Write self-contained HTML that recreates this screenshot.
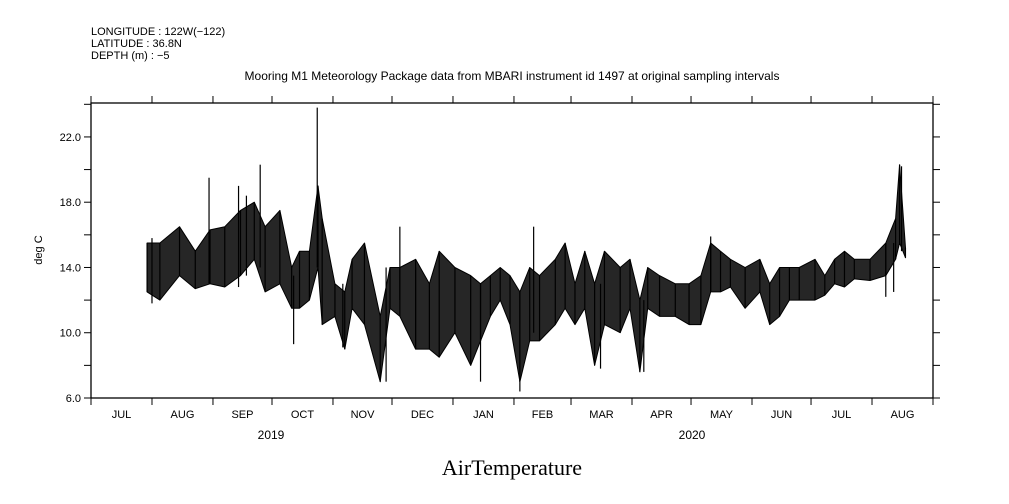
<!DOCTYPE html>
<html><head><meta charset="utf-8"><style>
body{margin:0;background:#fff;}
svg{display:block;font-family:"Liberation Sans",sans-serif;}
</style></head><body>
<svg width="1009" height="504" id="chart">
<text x="91" y="35" font-size="11">LONGITUDE : 122W(−122)</text>
<text x="91" y="47" font-size="11">LATITUDE : 36.8N</text>
<text x="91" y="59" font-size="11">DEPTH (m) : −5</text>
<text x="512" y="80" font-size="12" text-anchor="middle">Mooring M1 Meteorology Package data from MBARI instrument id 1497 at original sampling intervals</text>
<text x="512" y="475" font-size="22" text-anchor="middle" font-family="Liberation Serif, serif">AirTemperature</text>
<text x="42" y="250" font-size="11" text-anchor="middle" transform="rotate(-90 42 250)">deg C</text>
<text x="271" y="439" font-size="12" text-anchor="middle">2019</text>
<text x="692" y="439" font-size="12" text-anchor="middle">2020</text>
<g id="plot"></g>
</svg>
<script>
const segDays=[28.5,35,45,53,60.5,68,76,83,88.5,96,102,106,111,115.4,117.5,124,129,132.7,139,147,152,157,165,172,177,185,193,198,203,208,213,218,223,228,236,241,246,251,256,261,269,274,279,283,289,297,304,310,315,320,325,332.5,340,345,350,355,360,368,373,378,383,388,396,404,409,411,414];
const segHi=[15.5,15.5,16.5,15,16.3,16.5,17.5,18,16.5,17.5,14,15,15,19,17,13,12.5,14.5,15.5,11,14,14,14.5,13,15,14,13.5,13,13.5,14,13.5,12.5,14,13.5,14.5,15.5,13,15,13,15,14,14.5,12,14,13.5,13,13,13.5,15.5,15,14.5,14,14.5,13,14,14,14,14.5,13.5,14.5,15,14.5,14.5,15.5,17,20.3,15.2];
const segLo=[12.5,12,13.5,12.7,13,12.8,13.5,14.5,12.5,13,11.5,11.5,12,14,10.5,11,9,11.5,10.5,7,11.5,11,9,9,8.5,10,8,9.5,11,12,10.5,7,9.5,9.5,10.5,11.5,10.5,11.5,8,10.5,10,11.5,7.6,11.5,11,11,10.5,10.5,12.5,12.5,12.8,11.5,12.5,10.5,11,12,12,12,12.3,13,12.8,13.3,13.2,13.5,14.5,15.5,14.6];
const spikeDays=[31,60,75,79,86,103,115,128,150,157,165,198,218,225,259,281,315,404,408,412];
const spikeTop=[15.8,19.5,19,18.4,20.3,13.5,23.8,13,14,16.5,14,13,12.5,16.5,13,12,15.9,15.5,15.5,20.2];
const spikeBot=[11.8,13,12.8,13.5,14,9.3,14,9.1,7,12,9,7,6.4,10,7.8,7.6,12.5,12.2,12.5,15];
const yTicks=[6,10,14,18,22];
const months=["JUL","AUG","SEP","OCT","NOV","DEC","JAN","FEB","MAR","APR","MAY","JUN","JUL","AUG"];
const monthStart=[0,31,62,92,123,153,184,215,244,275,305,336,366,397,428];

const X0=91,X1=933,Y0=398,Y1=103,D1=428,V0=6,V1=24.08;
const xs=d=>X0+d/D1*(X1-X0);
const ys=v=>Y0-(v-V0)/(V1-V0)*(Y0-Y1);
const NS="http://www.w3.org/2000/svg";
const g=document.getElementById('plot');
function mk(tag,a){const e=document.createElementNS(NS,tag);for(const k in a)e.setAttribute(k,a[k]);g.appendChild(e);return e;}
let e=mk('rect',{x:X0,y:Y1,width:X1-X0,height:Y0-Y1,fill:'none',stroke:'#000','stroke-width':1.3});


for(let i=0;i<monthStart.length;i++){
 const x=xs(monthStart[i]);
 e=mk('line',{x1:x,x2:x,y1:Y0,y2:Y0+7,stroke:'#000'});
 
 
 e=mk('line',{x1:x,x2:x,y1:Y1,y2:Y1-7,stroke:'#000'});
 
 
 if(i<months.length){
  e=mk('text',{x:(x+xs(monthStart[i+1]))/2,y:418,'font-size':11,'text-anchor':'middle'});
  e.textContent=months[i];
  
  
 }
}
for(let v=6;v<=24;v+=2){
 const y=ys(v);
 e=mk('line',{x1:X0-7,x2:X0,y1:y,y2:y,stroke:'#000'});
 
 
 e=mk('line',{x1:X1,x2:X1+7,y1:y,y2:y,stroke:'#000'});
 
 
}
yTicks.forEach(v=>{
 e=mk('text',{x:X0-10,y:ys(v)+4,'font-size':11,'text-anchor':'end'});
 e.textContent=v.toFixed(1);
 
 
});
// envelope band: upper points forward, lower points backward
let up=[],dn=[];
for(let i=0;i<segDays.length;i++){
 up.push(xs(segDays[i]).toFixed(1)+','+ys(segHi[i]).toFixed(1));
 dn.unshift(xs(segDays[i]).toFixed(1)+','+ys(segLo[i]).toFixed(1));
}
e=mk('polygon',{points:up.concat(dn).join(' '),fill:'#000','fill-opacity':0.85,stroke:'#000','stroke-width':1,'stroke-linejoin':'round'});


for(let i=0;i<segDays.length;i++){
 const x=xs(segDays[i]);
 e=mk('line',{x1:x,x2:x,y1:ys(segHi[i]),y2:ys(segLo[i]),stroke:'#000','stroke-width':1.2});
 
 
}
for(let i=0;i<spikeDays.length;i++){
 const x=xs(spikeDays[i]);
 e=mk('line',{x1:x,x2:x,y1:ys(spikeTop[i]),y2:ys(spikeBot[i]),stroke:'#000','stroke-width':1.2});
 
 
}
</script>
</body></html>
